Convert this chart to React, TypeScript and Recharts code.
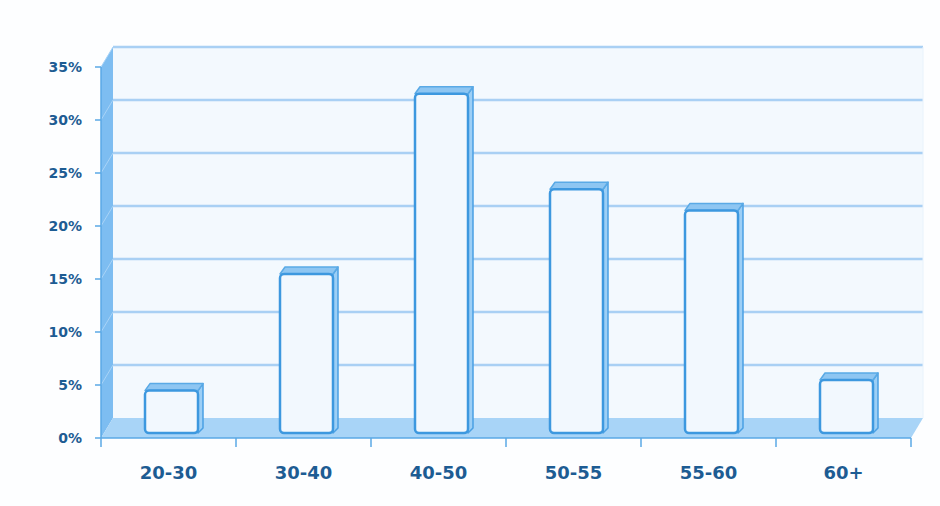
import { Bar, BarChart, ReferenceArea, XAxis, YAxis } from "recharts";

const CATEGORIES = ["20-30", "30-40", "40-50", "50-55", "55-60", "60+"];
const SHARE = [4, 15, 32, 23, 21, 5];
const Y_TICKS = [0, 5, 10, 15, 20, 25, 30, 35];

const W = 940;
const H = 506;
const MARGIN = { top: 67, right: 29, bottom: 38, left: 41 };
const Y_AXIS_W = 60;
const BAND = (W - MARGIN.left - Y_AXIS_W - MARGIN.right) / CATEGORIES.length;

// depth of the fake 3d box
const DX = 12;
const DY = 20;

const AXIS = "#5aa9e6";
const LABEL = "#1d5c93";
const FONT = "'DejaVu Sans', Verdana, sans-serif";

const data = CATEGORIES.map((group, i) => ({ group, share: SHARE[i] }));

function Walls(props: any) {
  const { x, y, width, height } = props;
  const bottom = y + height;
  const bx = x + DX;
  const by = y - DY;
  const max = Y_TICKS[Y_TICKS.length - 1];
  const tys = Y_TICKS.map((t) => bottom - (t / max) * height);
  return (
    <g>
      <rect x={bx} y={by} width={width} height={height} fill="#f3f9fe" />
      {tys.slice(1).map((ty, i) => (
        <line key={i} x1={bx} x2={bx + width} y1={ty - DY} y2={ty - DY} stroke="#a9d0f4" strokeWidth={2.5} />
      ))}
      <line x1={bx + width} x2={bx + width} y1={by} y2={by + height} stroke="#e8f2fc" strokeWidth={1} />
      <polygon
        points={`${x},${bottom} ${x},${y} ${bx},${by} ${bx},${by + height}`}
        fill="#7dbdf1"
      />
      {tys.slice(1).map((ty, i) => (
        <line key={i} x1={x} x2={bx} y1={ty} y2={ty - DY} stroke="#a8d3f7" strokeWidth={1} />
      ))}
      <polygon
        points={`${x},${bottom} ${x + width},${bottom} ${bx + width},${by + height} ${bx},${by + height}`}
        fill="#a8d4f7"
      />
    </g>
  );
}

function Bar3D(props: any) {
  const { x, y, width, height } = props;
  const fx = x + 3;
  const fy = y - 5;
  const fb = y + height - 5;
  const d = 5;
  const e = 7;
  return (
    <g>
      <polygon
        points={`${fx + width},${fy} ${fx + width + d},${fy - e} ${fx + width + d},${fb - e + 2} ${fx + width},${fb}`}
        fill="#9ccff6"
        stroke="#4aa0e4"
        strokeWidth={1.5}
        strokeLinejoin="round"
      />
      <polygon
        points={`${fx},${fy} ${fx + d},${fy - e} ${fx + width + d},${fy - e} ${fx + width},${fy}`}
        fill="#8ec6f2"
        stroke="#5aaae6"
        strokeWidth={1.5}
        strokeLinejoin="round"
      />
      <rect x={fx} y={fy} width={width} height={fb - fy} rx={4} fill="#f2f8fe" stroke="#3d98df" strokeWidth={2.5} />
    </g>
  );
}

function XTick(props: any) {
  const { x, y, payload, index } = props;
  const half = BAND / 2;
  return (
    <g>
      <line x1={x - half} x2={x - half} y1={y} y2={y + 9} stroke={AXIS} strokeWidth={1.5} />
      {index === CATEGORIES.length - 1 && (
        <line x1={x + half} x2={x + half} y1={y} y2={y + 9} stroke={AXIS} strokeWidth={1.5} />
      )}
      <text x={x} y={y + 41} textAnchor="middle" fill={LABEL} fontSize={18} fontWeight="bold" fontFamily={FONT}>
        {payload.value}
      </text>
    </g>
  );
}

export default function App() {
  return (
    <div style={{ width: W, height: H, background: "#fdfeff" }}>
      <style>{"body{margin:0;background:#fff}"}</style>
      <BarChart width={W} height={H} data={data} margin={MARGIN}>
        <ReferenceArea y1={0} y2={Y_TICKS[Y_TICKS.length - 1]} shape={Walls} />
        <XAxis
          dataKey="group"
          interval={0}
          tickLine={false}
          tickSize={0}
          tickMargin={0}
          axisLine={{ stroke: AXIS, strokeWidth: 1.5 }}
          tick={<XTick />}
        />
        <YAxis
          width={Y_AXIS_W}
          domain={[0, Y_TICKS[Y_TICKS.length - 1]]}
          ticks={Y_TICKS}
          tickFormatter={(v) => `${v}%`}
          axisLine={{ stroke: AXIS, strokeWidth: 1.5 }}
          tickLine={{ stroke: AXIS, strokeWidth: 1.5 }}
          tickSize={6}
          tickMargin={13}
          tick={{ fill: LABEL, fontSize: 14, fontWeight: "bold", fontFamily: FONT }}
        />
        <Bar dataKey="share" barSize={53} shape={Bar3D} isAnimationActive={false} />
      </BarChart>
    </div>
  );
}
